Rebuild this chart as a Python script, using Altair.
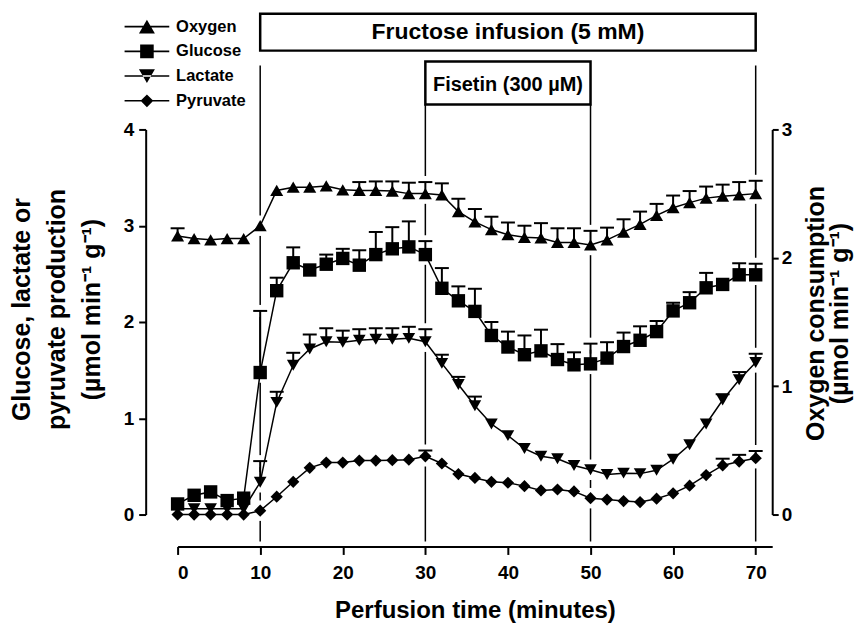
import altair as alt
import pandas as pd

# ---------------- data ----------------
time = list(range(0, 72, 2))

oxygen = [2.17, 2.15, 2.14, 2.15, 2.15, 2.25, 2.525, 2.55, 2.55, 2.56, 2.53, 2.525,
          2.525, 2.52, 2.50, 2.50, 2.49, 2.36, 2.28, 2.22, 2.18, 2.16, 2.155, 2.12,
          2.12, 2.10, 2.14, 2.20, 2.26, 2.33, 2.39, 2.43, 2.465, 2.48, 2.49, 2.50]
oxygen_err = [0.06, 0, 0, 0, 0, 0, 0, 0, 0, 0, 0, 0.065,
              0.07, 0.075, 0.085, 0.09, 0.09, 0.10, 0.10, 0.10, 0.095, 0.09, 0.115, 0.11,
              0.11, 0.11, 0.095, 0.10, 0.10, 0.09, 0.095, 0.09, 0.09, 0.09, 0.10, 0.10]

glucose = [0.11, 0.20, 0.235, 0.145, 0.17, 1.475, 2.325, 2.615, 2.54, 2.60, 2.66, 2.59,
           2.70, 2.76, 2.78, 2.70, 2.35, 2.22, 2.11, 1.86, 1.74, 1.66, 1.70, 1.61,
           1.555, 1.565, 1.625, 1.745, 1.81, 1.90, 2.115, 2.20, 2.355, 2.39, 2.49, 2.49]
glucose_err = [0, 0, 0, 0, 0, 0.64, 0.135, 0.16, 0, 0.10, 0.10, 0.155,
               0.235, 0.225, 0.265, 0.14, 0.21, 0.15, 0.235, 0.14, 0.16, 0.20, 0.22, 0.16,
               0.13, 0.21, 0.165, 0.145, 0.145, 0.11, 0.085, 0.11, 0.155, 0, 0.12, 0.115]

lactate = [0.06, 0.06, 0.06, 0.06, 0.06, 0.335, 1.165, 1.55, 1.72, 1.795, 1.79, 1.81,
           1.82, 1.82, 1.83, 1.795, 1.57, 1.35, 1.13, 0.94, 0.82, 0.685, 0.605, 0.58,
           0.51, 0.465, 0.415, 0.43, 0.425, 0.46, 0.575, 0.725, 0.94, 1.19, 1.40, 1.58]
lactate_err = [0, 0, 0, 0, 0, 0.22, 0.11, 0.13, 0.15, 0.14, 0.12, 0.115,
               0.115, 0.115, 0.12, 0.13, 0.09, 0.08, 0.095, 0, 0, 0, 0, 0,
               0, 0, 0, 0, 0, 0, 0, 0, 0, 0.06, 0.08, 0.09]

pyruvate = [0.0, 0.0, 0.0, 0.0, 0.0, 0.04, 0.185, 0.34, 0.485, 0.54, 0.54, 0.56,
            0.56, 0.565, 0.57, 0.605, 0.53, 0.42, 0.38, 0.34, 0.33, 0.295, 0.25, 0.26,
            0.24, 0.17, 0.155, 0.14, 0.13, 0.165, 0.22, 0.30, 0.41, 0.51, 0.55, 0.585]
pyruvate_err = [0, 0, 0, 0, 0, 0, 0, 0, 0, 0, 0, 0,
                0, 0, 0, 0.06, 0, 0, 0, 0, 0, 0, 0, 0,
                0, 0, 0, 0, 0, 0, 0, 0, 0, 0.07, 0.07, 0.075]

series_names = ["Oxygen", "Glucose", "Lactate", "Pyruvate"]
fructose_period = [10, 70]
fisetin_period = [30, 50]
fructose_label = "Fructose infusion (5 mM)"
fisetin_label = "Fisetin (300 µM)"
x_ticks = [0, 10, 20, 30, 40, 50, 60, 70]
left_ticks = [0, 1, 2, 3, 4]
right_ticks = [0, 1, 2, 3]
x_title = "Perfusion time (minutes)"
left_title = ["Glucose, lactate or", "pyruvate production", "(µmol min⁻¹ g⁻¹)"]
right_title = ["Oxygen consumption", "(µmol min⁻¹ g⁻¹)"]

# ---------------- tables ----------------
def frame(name, vals, errs):
    d = pd.DataFrame({"time": time, "value": vals, "err": errs, "series": name})
    d["hi"] = d["value"] + d["err"]
    return d

frames = {
    "Oxygen": frame("Oxygen", oxygen, oxygen_err),
    "Glucose": frame("Glucose", glucose, glucose_err),
    "Lactate": frame("Lactate", lactate, lactate_err),
    "Pyruvate": frame("Pyruvate", pyruvate, pyruvate_err),
}
all_df = pd.concat(list(frames.values()), ignore_index=True)
event_times = fructose_period + fisetin_period

fructose_df = pd.DataFrame({"start": [fructose_period[0]], "end": [fructose_period[1]],
                            "label": [fructose_label]})
fisetin_df = pd.DataFrame({"start": [fisetin_period[0]], "end": [fisetin_period[1]],
                           "label": [fisetin_label]})

FONT = "Liberation Sans"

x_scale = alt.Scale(domain=[0, 72], nice=False, zero=False)
x_axis = alt.Axis(values=x_ticks, offset=32, tickSize=8, labelPadding=9,
                  title=x_title, titleFontSize=24, titleBaseline="alphabetic", titleY=71)


def X(field="time:Q"):
    return alt.X(field, scale=x_scale, axis=x_axis)


yL_scale = alt.Scale(domain=[0, 4], nice=False, zero=False)
yL_axis = alt.Axis(orient="left", values=left_ticks, offset=32, tickSize=7, labelPadding=5,
                   title=left_title, titleFontSize=25, titleLineHeight=35, titleAngle=270,
                   titleBaseline="top", titleAlign="center", titleX=-136.5, titleY=180)
yR_scale = alt.Scale(domain=[0, 3], nice=False, zero=False)
yR_axis = alt.Axis(orient="right", values=right_ticks, offset=0, tickSize=6, labelPadding=3,
                   title=right_title, titleFontSize=25, titleLineHeight=24.5, titleAngle=270,
                   titleBaseline="top", titleAlign="center", titleX=31, titleY=184)


def YL(field):
    return alt.Y(field, scale=yL_scale, axis=yL_axis)


def YR(field):
    return alt.Y(field, scale=yR_scale, axis=yR_axis)


at_events = alt.FieldOneOfPredicate(field="time", oneOf=event_times)


def halo_layers(name, Y):
    base = alt.Chart(frames[name]).transform_filter(at_events)
    pts = base.mark_point(shape="square", filled=True, color="white", size=420, opacity=1).encode(
        x=X(), y=Y("value:Q"))
    caps = base.transform_filter("datum.err > 0").mark_tick(
        orient="horizontal", color="white", size=16, thickness=12, opacity=1).encode(
        x=X(), y=Y("hi:Q"))
    return [pts, caps]


def data_layers(name, shape, size, Y):
    base = alt.Chart(frames[name])
    line = base.mark_line(color="black", strokeWidth=1.5).encode(x=X(), y=Y("value:Q"))
    err = base.transform_filter("datum.err > 0").mark_rule(color="black", strokeWidth=2).encode(
        x=X(), y=Y("value:Q"), y2="hi:Q")
    cap = base.transform_filter("datum.err > 0").mark_tick(
        orient="horizontal", color="black", size=14, thickness=2, opacity=1).encode(
        x=X(), y=Y("hi:Q"))
    pts = base.mark_point(shape=shape, filled=True, color="black", size=size, opacity=1).encode(
        x=X(), y=Y("value:Q"))
    return [line, err, cap, pts]


# annotation lines and boxes
rule_f = alt.Chart(pd.DataFrame({"time": fructose_period})).mark_rule(
    color="black", strokeWidth=1.5).encode(x=X(), y=alt.value(-64), y2=alt.value(413))
rule_s = alt.Chart(pd.DataFrame({"time": fisetin_period})).mark_rule(
    color="black", strokeWidth=1.5).encode(x=X(), y=alt.value(-25), y2=alt.value(413))

box_f = alt.Chart(fructose_df).mark_rect(fill="white", stroke="black", strokeWidth=2.5).encode(
    x=X("start:Q"), x2="end:Q", y=alt.value(-116), y2=alt.value(-79))
box_s = alt.Chart(fisetin_df).mark_rect(fill="white", stroke="black", strokeWidth=2.5).encode(
    x=X("start:Q"), x2="end:Q", y=alt.value(-68), y2=alt.value(-25))
txt_f = alt.Chart(fructose_df).transform_calculate(mid="(datum.start + datum.end) / 2").mark_text(
    font=FONT, fontSize=23, fontWeight="bold", color="black", align="center",
    baseline="middle").encode(x=X("mid:Q"), y=alt.value(-97.5), text="label:N")
txt_s = alt.Chart(fisetin_df).transform_calculate(mid="(datum.start + datum.end) / 2").mark_text(
    font=FONT, fontSize=20, fontWeight="bold", color="black", align="center",
    baseline="middle").encode(x=X("mid:Q"), y=alt.value(-45), text="label:N")

# legend (line + marker symbols, all filled shapes)
LINE = "M-2.8,-0.095H2.8V0.095H-2.8Z"
legend_paths = [
    LINE + "M0,-0.87L1,0.87L-1,0.87Z",
    LINE + "M-0.85,-0.85H0.85V0.85H-0.85Z",
    LINE + "M0,0.87L1,-0.87L-1,-0.87Z",
    LINE + "M-0.8,0L0,-0.8L0.8,0L0,0.8Z",
]
legend_layer = alt.Chart(all_df).mark_point(
    filled=True, color="black", opacity=0).encode(
    x=X(), y=YL("value:Q"),
    shape=alt.Shape("series:N", scale=alt.Scale(domain=series_names, range=legend_paths),
                    legend=alt.Legend(orient="none", legendX=-39, legendY=-111.3, title=None,
                                      labelFont=FONT, labelFontSize=16.5, labelFontWeight="bold",
                                      labelColor="black", labelOffset=21, symbolSize=256,
                                      rowPadding=7.8, padding=0, symbolOpacity=1,
                                      symbolFillColor="black", symbolStrokeWidth=0)))

left_layers = [rule_f, rule_s, box_f, box_s, txt_f, txt_s]
for nm in ["Glucose", "Lactate", "Pyruvate"]:
    left_layers += halo_layers(nm, YL)
left_layers += data_layers("Glucose", "square", 180, YL)
left_layers += data_layers("Lactate", "triangle-down", 160, YL)
left_layers += data_layers("Pyruvate", "diamond", 150, YL)
left_layers.append(legend_layer)

right_layers = halo_layers("Oxygen", YR) + data_layers("Oxygen", "triangle-up", 170, YR)

left = alt.layer(*left_layers)
right = alt.layer(*right_layers)

chart = alt.layer(left, right).resolve_scale(y="independent").properties(
    width=596, height=386,
    autosize=alt.AutoSizeParams(type="none"),
    padding={"left": 170, "top": 121, "right": 88, "bottom": 110},
).configure_axis(
    domainColor="black", domainWidth=2, tickColor="black", tickWidth=2,
    labelFont=FONT, labelFontSize=19, labelFontWeight="bold", labelColor="black",
    titleFont=FONT, titleFontWeight="bold", titleColor="black", grid=False,
).configure_view(stroke="transparent")

chart.save("out.html", embed_options={"renderer": "svg", "actions": False})
